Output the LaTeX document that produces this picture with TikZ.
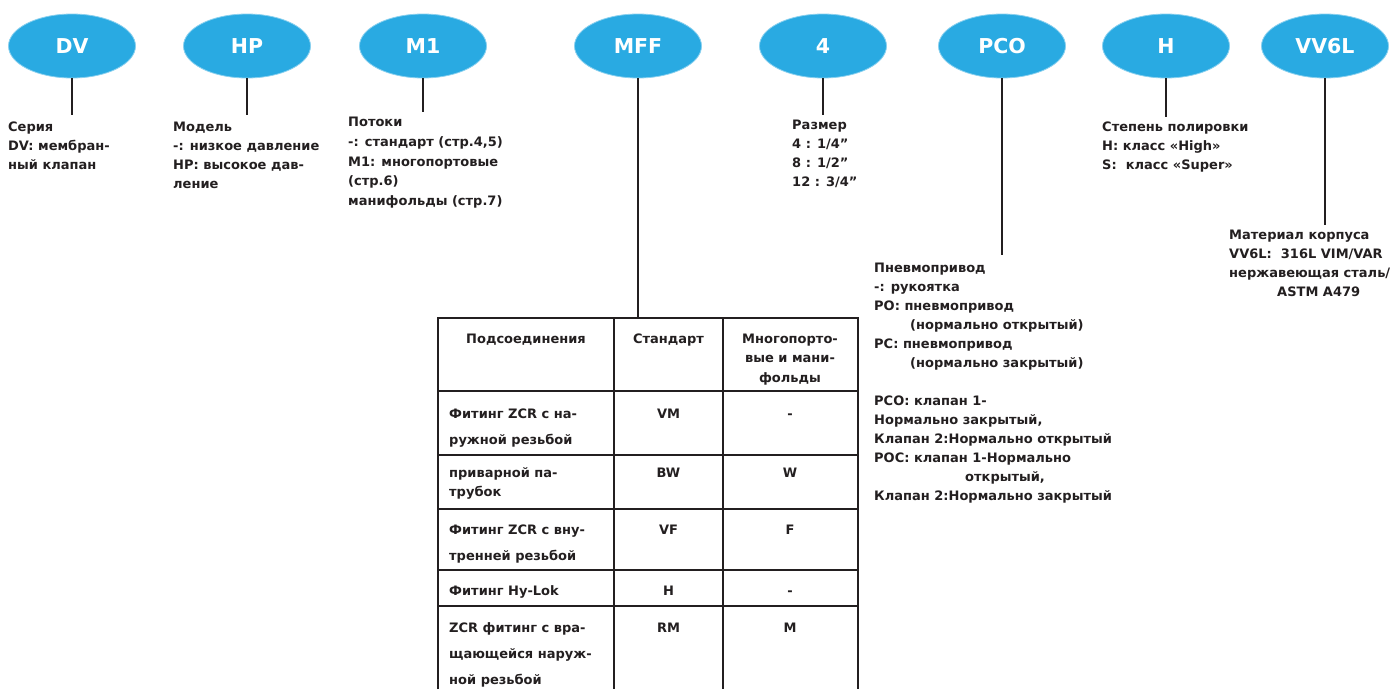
\documentclass[tikz,border=0pt]{standalone}
\usepackage{fontspec}
\setmainfont{DejaVu Sans}
\usetikzlibrary{shapes.geometric}
\definecolor{ovalblue}{RGB}{41,170,226}
\definecolor{ink}{RGB}{35,31,32}
\newcommand{\tstr}{\rule{0pt}{12pt}}
\begin{document}
\begin{tikzpicture}[x=1pt,y=-1pt,
  oval/.style={ellipse, fill=ovalblue, draw=ovalblue!55, line width=0.8pt,
    minimum width=127pt, minimum height=64pt, inner sep=0pt, text=white,
    font=\bfseries\fontsize{20.5}{20.5}\selectfont},
  conn/.style={draw=ink, line width=2.8pt},
  desc/.style={anchor=north west, inner sep=0pt, align=left, text=ink,
    font=\bfseries\fontsize{13}{19}\selectfont},
  gridline/.style={draw=ink, line width=1.6pt},
  cellc/.style={anchor=base, inner sep=0pt, text=ink,
    font=\bfseries\fontsize{13}{19}\selectfont},
  celll/.style={anchor=north west, inner sep=0pt, align=left, text=ink,
    font=\bfseries\fontsize{13}{26}\selectfont},
]
\fill[white] (0,0) rectangle (1395,689);
\useasboundingbox (0,0) rectangle (1395,689);

% ovals
\node[oval] (dv)  at (72,46)   {DV};
\node[oval] (hp)  at (247,46)  {HP};
\node[oval] (m1)  at (423,46)  {M1};
\node[oval] (mff) at (638,46)  {MFF};
\node[oval] (sz)  at (823,46)  {4};
\node[oval] (pco) at (1002,46) {PCO};
\node[oval] (hh)  at (1166,46) {H};
\node[oval] (vv)  at (1325,46) {VV6L};

% descriptions (north = first baseline - 12)
\node[desc] (dvt) at (8,119) {\tstr Серия\\DV: мембран-\\ный клапан};
\node[desc] (hpt) at (173,119) {\tstr Модель\\-: низкое давление\\HP: высокое дав-\\ление};
\node[desc, font=\bfseries\fontsize{13}{19.6}\selectfont] (m1t) at (348,114.6)
  {\tstr Потоки\\-: стандарт (стр.4,5)\\M1: многопортовые\\(стр.6)\\манифольды (стр.7)};
\node[desc] (szt) at (792,117.5) {\tstr Размер\\4 : 1/4''\\8 : 1/2''\\12 : 3/4''};
\node[desc] (hht) at (1102,119) {\tstr Степень полировки\\H: класс «High»\\S:\ \ класс «Super»};
\node[desc] (vvt) at (1229,227.5) {\tstr Материал корпуса\\VV6L:\ \ 316L VIM/VAR\\нержавеющая сталь/\\\hspace*{48pt}ASTM A479};
\node[desc] (pcot) at (874,260) {\tstr Пневмопривод\\-: рукоятка\\PO: пневмопривод\\\hspace*{36pt}(нормально открытый)\\PC: пневмопривод\\\hspace*{36pt}(нормально закрытый)\\[19pt]PCO: клапан 1-\\Нормально закрытый,\\Клапан 2:Нормально открытый\\POC: клапан 1-Нормально\\\hspace*{91pt}открытый,\\Клапан 2:Нормально закрытый};

% connector ends
\coordinate (dve) at (72,115);
\coordinate (hpe) at (247,115);
\coordinate (m1e) at (423,112);
\coordinate (mffe) at (638,318);
\coordinate (sze) at (823,115);
\coordinate (pcoe) at (1002,255);
\coordinate (hhe) at (1166,117);
\coordinate (vve) at (1325,225);

\draw[conn] (dv.south) -- (dve);
\draw[conn] (hp.south) -- (hpe);
\draw[conn] (m1.south) -- (m1e);
\draw[conn] (mff.south) -- (mffe);
\draw[conn] (sz.south) -- (sze);
\draw[conn] (pco.south) -- (pcoe);
\draw[conn] (hh.south) -- (hhe);
\draw[conn] (vv.south) -- (vve);

% table grid
\draw[gridline] (438,689) -- (438,318) -- (858,318) -- (858,689);
\draw[gridline] (614,318) -- (614,689);
\draw[gridline] (723,318) -- (723,689);
\foreach \yy in {391,455,509,570,606} {
  \draw[gridline] (438,\yy) -- (858,\yy);
}

% header
\node[cellc] (h1) at (526,343) {Подсоединения};
\node[cellc] (h2) at (668.5,343) {Стандарт};
\node[anchor=north, inner sep=0pt, align=center, text=ink,
  font=\bfseries\fontsize{13}{19.5}\selectfont] (h3) at (790,331)
  {\tstr Многопорто-\\вые и мани-\\фольды};

% row 1
\node[celll] (r1a) at (449,406) {\tstr Фитинг ZCR с на-\\ружной резьбой};
\node[cellc] (r1b) at (668.5,418) {VM};
\node[cellc] (r1c) at (790,418) {-};
% row 2
\node[celll, font=\bfseries\fontsize{13}{19}\selectfont] (r2a) at (449,465) {\tstr приварной па-\\трубок};
\node[cellc] (r2b) at (668.5,477) {BW};
\node[cellc] (r2c) at (790,477) {W};
% row 3
\node[celll] (r3a) at (449,522.5) {\tstr Фитинг ZCR с вну-\\тренней резьбой};
\node[cellc] (r3b) at (668.5,534.5) {VF};
\node[cellc] (r3c) at (790,534.5) {F};
% row 4
\node[cellc, anchor=base west] (r4a) at (449,595) {Фитинг Hy-Lok};
\node[cellc] (r4b) at (668.5,595) {H};
\node[cellc] (r4c) at (790,595) {-};
% row 5
\node[celll] (r5a) at (449,620) {\tstr ZCR фитинг с вра-\\щающейся наруж-\\ной резьбой};
\node[cellc] (r5b) at (668.5,632) {RM};
\node[cellc] (r5c) at (790,632) {M};
\end{tikzpicture}
\end{document}
